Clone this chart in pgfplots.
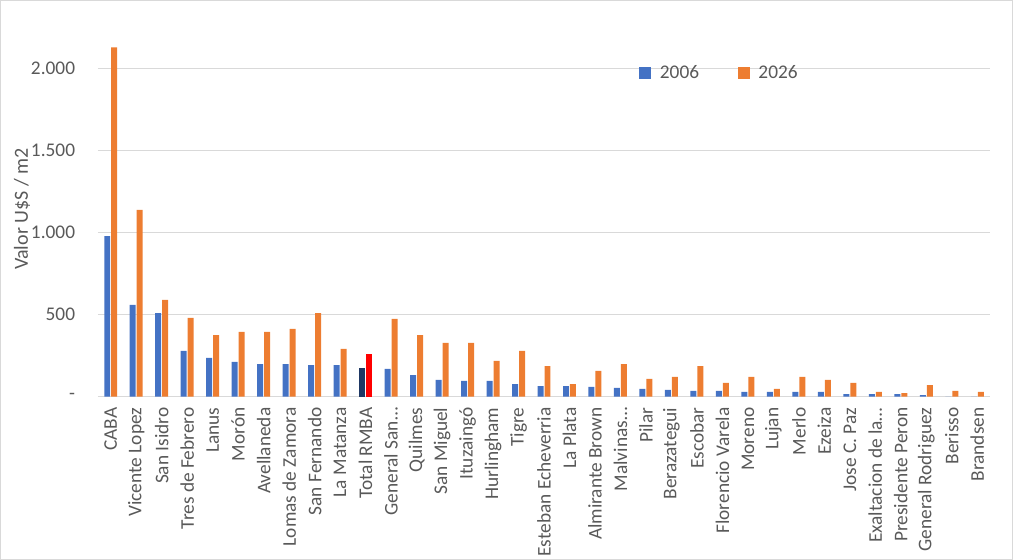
\documentclass[border=0pt]{standalone}
\usepackage{pgfplots}
\pgfplotsset{compat=1.18}
\usepackage{fontspec}
\setmainfont{Carlito}

\definecolor{c2006}{HTML}{4472C4}
\definecolor{c2026}{HTML}{ED7D31}
\definecolor{ctotA}{HTML}{1F3864}
\definecolor{ctotB}{HTML}{FF0000}
\definecolor{gridgray}{HTML}{D9D9D9}
\definecolor{txtgray}{HTML}{595959}

% index, 2006, 2026 (Total RMBA at index 10 drawn separately)
\pgfplotstableread{
x  a    b
0  980  2130
1  560  1140
2  510  590
3  280  480
4  236  376
5  212  395
6  199  395
7  199  413
8  193  510
9  193  291
11 169  474
12 132  376
13 102  328
14 96   328
15 96   218
16 77   279
17 65   187
18 65   77
19 59   157
20 53   199
21 47   108
22 41   120
23 35   187
24 35   84
25 29   120
26 29   47
27 29   120
28 29   102
29 16   84
30 16   29
31 16   22
32 10   71
33 0    35
34 0    29
}\datos

\newcommand\lblfont{\fontsize{14.5}{17}\selectfont}

\begin{document}
\begin{tikzpicture}
\path[use as bounding box] (-73.5pt,-122.5pt) rectangle (686.25pt,297.5pt);
\draw[gridgray, line width=0.75pt] (-73.1pt,-122.1pt) rectangle (685.85pt,297.1pt);
\begin{axis}[
    scale only axis,
    width=669pt,
    height=270.5pt,
    xmin=-0.5, xmax=34.5,
    ymin=0, ymax=2200,
    axis line style={draw=none},
    major tick length=0pt,
    ymajorgrids,
    grid style={gridgray, line width=1pt},
    ytick={0,500,1000,1500,2000},
    yticklabels={{-\hspace{5pt}},500,{1.000},{1.500},{2.000}},
    xtick={0,...,34},
    xticklabels={CABA,Vicente Lopez,San Isidro,Tres de Febrero,Lanus,Morón,Avellaneda,Lomas de Zamora,San Fernando,La Matanza,Total RMBA,General San…,Quilmes,San Miguel,Ituzaingó,Hurlingham,Tigre,Esteban Echeverria,La Plata,Almirante Brown,Malvinas…,Pilar,Berazategui,Escobar,Florencio Varela,Moreno,Lujan,Merlo,Ezeiza,{Jose C. Paz},Exaltacion de la…,Presidente Peron,General Rodriguez,Berisso,Brandsen},
    tick label style={font=\lblfont, text=txtgray},
    xticklabel style={rotate=90, anchor=east, inner sep=0pt, font=\lblfont},
    xticklabel shift=8pt,
    yticklabel style={anchor=east, inner sep=0pt, font=\lblfont},
    yticklabel shift=17pt,
    ylabel={Valor U\$S / m2},
    ylabel style={at={(axis description cs:-0.0852,0.52)}, anchor=center, font=\fontsize{15}{18}\selectfont, text=txtgray},
    legend style={draw=none, fill=none, at={(0.6065,0.898)}, anchor=west,
        font=\lblfont, text=txtgray, inner sep=0pt,
        /tikz/every odd column/.append style={column sep=4.5pt},
        /tikz/every even column/.append style={column sep=27pt}},
    legend columns=2,
    legend image code/.code={\fill[#1] (0pt,-4.5pt) rectangle (9pt,4.5pt);},
]
\addplot[ybar, bar width=0.235, bar shift=-0.137, draw=none, fill=c2006] table[x=x, y=a] {\datos};
\addplot[ybar, bar width=0.235, bar shift=0.137, draw=none, fill=c2026] table[x=x, y=b] {\datos};
\addplot[ybar, bar width=0.235, bar shift=-0.137, draw=none, fill=ctotA, forget plot] coordinates {(10,175)};
\addplot[ybar, bar width=0.235, bar shift=0.137, draw=none, fill=ctotB, forget plot] coordinates {(10,260)};
\legend{2006,2026}
\end{axis}
\end{tikzpicture}
\end{document}
